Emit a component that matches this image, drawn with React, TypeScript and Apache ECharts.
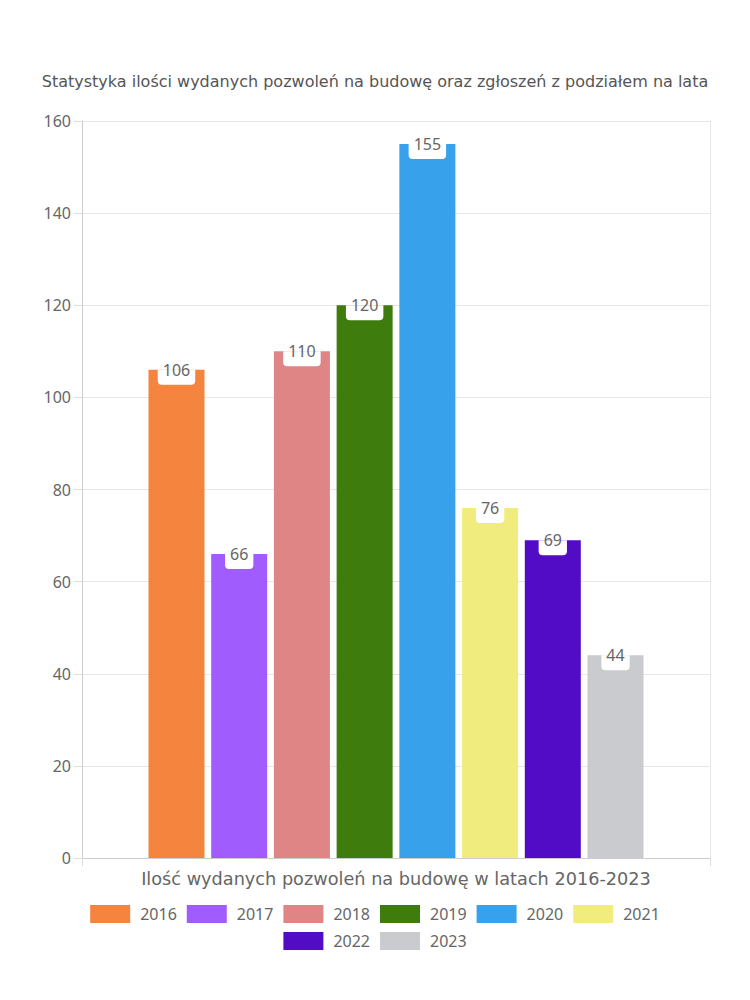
import React, { useEffect, useRef } from "react";
import * as echarts from "echarts";

const titleText = "Statystyka ilości wydanych pozwoleń na budowę oraz zgłoszeń z podziałem na lata";
const categories = ["Ilość wydanych pozwoleń na budowę w latach 2016-2023"];
const years = ["2016", "2017", "2018", "2019", "2020", "2021", "2022", "2023"];
const values = [106, 66, 110, 120, 155, 76, 69, 44];
const colors = ["#f5843f", "#a05cfc", "#e08585", "#3e7d0d", "#37a2eb", "#f0ec7d", "#520cc6", "#c9cbcf"];
const legendRow1 = years.slice(0, 6);
const legendRow2 = years.slice(6);

const FONT = "'Noto Sans', sans-serif";
const WIDE = "'DejaVu Sans', sans-serif";

export default function App() {
  const ref = useRef<HTMLDivElement>(null);
  useEffect(() => {
    if (!ref.current) return;
    const chart = echarts.init(ref.current, undefined, { renderer: "svg" });
    const legendBase = {
      left: "center",
      itemWidth: 40,
      itemHeight: 18,
      itemGap: 10,
      icon: "rect",
      textStyle: { fontSize: 16, color: "#666", fontFamily: FONT, padding: [0, 0, 0, 5] },
    };
    chart.setOption({
      animation: false,
      textStyle: { fontFamily: FONT },
      title: {
        text: titleText,
        left: "center",
        top: 68,
        textStyle: { fontSize: 16, fontWeight: "normal", color: "#555", fontFamily: WIDE },
      },
      grid: { left: 82, right: 40, top: 121, bottom: 142 },
      legend: [
        { ...legendBase, top: 900, data: legendRow1 },
        { ...legendBase, top: 927, data: legendRow2 },
      ],
      xAxis: {
        type: "category",
        data: categories,
        axisLine: { lineStyle: { color: "#ccc" } },
        axisTick: { show: true, length: 8, lineStyle: { color: "#ddd" } },
        splitLine: { show: true, lineStyle: { color: "#e6e6e6" } },
        axisLabel: { fontSize: 17.7, color: "#666", margin: 12, fontFamily: WIDE },
      },
      yAxis: {
        type: "value",
        min: 0,
        max: 160,
        interval: 20,
        axisLine: { show: true, lineStyle: { color: "#ccc" } },
        axisTick: { show: true, length: 8, lineStyle: { color: "#ddd" } },
        splitLine: { show: true, lineStyle: { color: "#e6e6e6" } },
        axisLabel: { fontSize: 16, color: "#666", margin: 11, fontFamily: FONT },
      },
      series: years.map((y, i) => ({
        name: y,
        type: "bar",
        data: [values[i]],
        barWidth: 56,
        barGap: "12%",
        itemStyle: { color: colors[i] },
        label: {
          show: true,
          position: "insideTop",
          distance: 0,
          color: "#666",
          fontSize: 16,
          fontFamily: FONT,
          lineHeight: 20,
          backgroundColor: "#fff",
          borderRadius: [0, 0, 4, 4],
          padding: [-10, 5, 5, 5],
        },
      })),
    });
    return () => chart.dispose();
  }, []);
  return <div ref={ref} style={{ width: 750, height: 1000, position: "absolute", left: 0, top: 0 }} />;
}
